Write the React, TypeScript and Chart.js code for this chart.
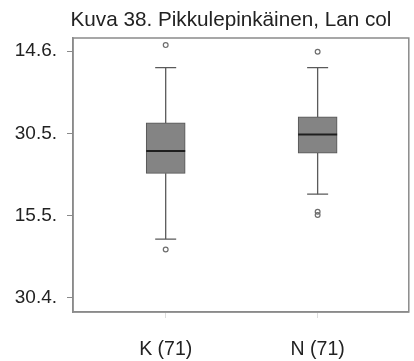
import React, { useEffect, useRef } from "react";
import { Chart, registerables } from "chart.js";

Chart.register(...registerables);

const titleText = "Kuva 38. Pikkulepinkäinen, Lan col";
const categories = ["K (71)", "N (71)"];
const positions = [1, 2];
const whiskerLow = [130.7, 138.9];
const q1 = [142.7, 146.4];
const median = [146.8, 149.8];
const q3 = [151.9, 153.0];
const whiskerHigh = [162.0, 162.0];
const outliersK = [166.1, 128.8];
const outliersN = [164.9, 135.7, 135.1];
const tickValues = [120, 135, 150, 165];
const tickLabels = ["30.4.", "15.5.", "30.5.", "14.6."];

const FONT = "'Liberation Sans', Arial, sans-serif";

export default function App() {
  const ref = useRef<HTMLCanvasElement | null>(null);

  useEffect(() => {
    document.body.style.margin = "0";
    const canvas = ref.current;
    if (!canvas) return;

    const boxPlugin = {
      id: "boxExtras",
      beforeDatasetsDraw(chart: any) {
        const { ctx, scales } = chart;
        const xs = scales.x;
        const ys = scales.y;
        ctx.save();
        ctx.strokeStyle = "#5a5a5a";
        ctx.lineWidth = 1.3;
        positions.forEach((p, i) => {
          const x = xs.getPixelForValue(p);
          const capHalf = 10.5;
          ctx.beginPath();
          ctx.moveTo(x, ys.getPixelForValue(whiskerHigh[i]));
          ctx.lineTo(x, ys.getPixelForValue(q3[i]));
          ctx.moveTo(x, ys.getPixelForValue(q1[i]));
          ctx.lineTo(x, ys.getPixelForValue(whiskerLow[i]));
          ctx.stroke();
          ctx.beginPath();
          const yh = ys.getPixelForValue(whiskerHigh[i]);
          const yl = ys.getPixelForValue(whiskerLow[i]);
          ctx.moveTo(x - capHalf, yh);
          ctx.lineTo(x + capHalf, yh);
          ctx.moveTo(x - capHalf, yl);
          ctx.lineTo(x + capHalf, yl);
          ctx.stroke();
        });
        ctx.restore();
      },
      afterDatasetsDraw(chart: any) {
        const { ctx, scales, chartArea } = chart;
        const xs = scales.x;
        const ys = scales.y;
        ctx.save();
        ctx.strokeStyle = "#1e1e1e";
        ctx.lineWidth = 2;
        positions.forEach((p, i) => {
          const x = xs.getPixelForValue(p);
          const y = ys.getPixelForValue(median[i]);
          ctx.beginPath();
          ctx.moveTo(x - 19.5, y);
          ctx.lineTo(x + 19.5, y);
          ctx.stroke();
        });
        // frame
        ctx.strokeStyle = "#8a8a8a";
        ctx.lineWidth = 1.5;
        ctx.strokeRect(
          chartArea.left,
          chartArea.top,
          chartArea.right - chartArea.left,
          chartArea.bottom - chartArea.top
        );
        // title
        ctx.fillStyle = "#222";
        ctx.font = `20.7px ${FONT}`;
        ctx.textAlign = "center";
        ctx.textBaseline = "middle";
        ctx.fillText(titleText, 231, 20);
        ctx.restore();
      },
    };

    const chart = new Chart(canvas, {
      type: "bar",
      data: {
        datasets: [
          {
            type: "bar",
            data: positions.map((p, i) => ({ x: p, y: [q1[i], q3[i]] })) as any,
            backgroundColor: "#848484",
            borderColor: "#555555",
            borderWidth: 1,
            borderSkipped: false,
            barThickness: 39,
          } as any,
          {
            type: "scatter",
            data: [
              ...outliersK.map((v) => ({ x: positions[0], y: v })),
              ...outliersN.map((v) => ({ x: positions[1], y: v })),
            ],
            backgroundColor: "rgba(255,255,255,0)",
            borderColor: "#6e6e6e",
            borderWidth: 1.2,
            pointRadius: 2.4,
          } as any,
        ],
      },
      options: {
        animation: false,
        responsive: false,
        maintainAspectRatio: false,
        layout: { padding: { top: 38, right: 4, left: 0, bottom: 0 } },
        plugins: {
          legend: { display: false },
          title: { display: false },
          tooltip: { enabled: false },
        },
        scales: {
          x: {
            type: "linear",
            min: 0.39,
            max: 2.6,
            offset: false,
            afterFit: (scale: any) => {
              scale.height = 49;
            },
            afterBuildTicks: (scale: any) => {
              scale.ticks = positions.map((v) => ({ value: v }));
            },
            ticks: {
              autoSkip: false,
              maxRotation: 0,
              padding: 20,
              color: "#222",
              font: { family: FONT, size: 19.5 },
              callback: (v: any) => {
                const idx = positions.indexOf(Number(v));
                return idx >= 0 ? categories[idx] : "";
              },
            },
            grid: {
              display: true,
              offset: false,
              drawOnChartArea: false,
              drawTicks: true,
              tickLength: 6,
              color: "#dddddd",
            },
            border: { display: true, color: "#8a8a8a", width: 1.5 },
          },
          y: {
            type: "linear",
            min: 117.4,
            max: 167.4,
            afterFit: (scale: any) => {
              scale.width = 73;
            },
            afterBuildTicks: (scale: any) => {
              scale.ticks = tickValues.map((v) => ({ value: v }));
            },
            ticks: {
              autoSkip: false,
              padding: 10,
              color: "#222",
              font: { family: FONT, size: 19 },
              callback: (v: any) => {
                const idx = tickValues.indexOf(Number(v));
                return idx >= 0 ? tickLabels[idx] : "";
              },
            },
            grid: {
              display: true,
              drawOnChartArea: false,
              drawTicks: true,
              tickLength: 6,
              color: "#8a8a8a",
            },
            border: { display: true, color: "#8a8a8a", width: 1.5 },
          },
        },
      },
      plugins: [boxPlugin],
    });

    return () => chart.destroy();
  }, []);

  return (
    <div style={{ width: 414, height: 361, background: "#fff" }}>
      <canvas ref={ref} width={414} height={361} style={{ display: "block" }} />
    </div>
  );
}
